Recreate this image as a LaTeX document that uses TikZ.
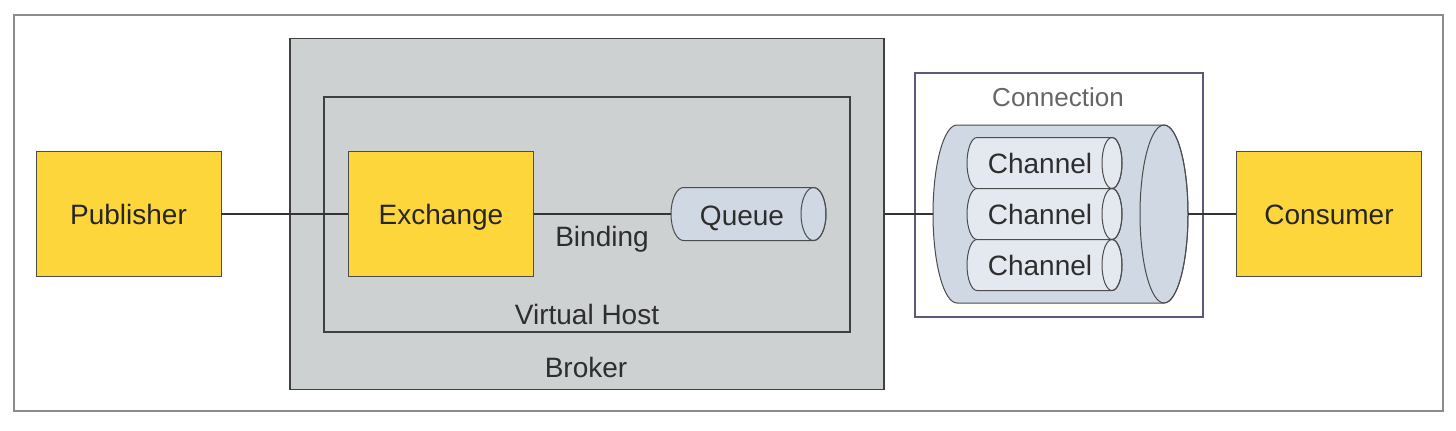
\documentclass[tikz,border=0pt]{standalone}
\usepackage{fontspec}
\setmainfont{Liberation Sans}
\definecolor{box yellow}{HTML}{FDD63C}
\definecolor{broker grey}{HTML}{CDD1D1}
\definecolor{pipe blue}{HTML}{D0D8E4}
\definecolor{channel blue}{HTML}{E4E9F0}
\definecolor{conn edge}{HTML}{5C587C}
\colorlet{label grey}{black!82}
\newcommand{\tube}[6]{% left x, right x, mid y, y radius, x radius, fill
  \filldraw[tubeline, fill=#6] (#2-#5,#3+#4) -- (#1+#5,#3+#4)
    arc[start angle=90, end angle=270, x radius=#5, y radius=#4]
    -- (#2-#5,#3-#4)
    arc[start angle=-90, end angle=90, x radius=#5, y radius=#4] -- cycle;
  \draw[tubeline] (#2-#5,#3) ellipse[x radius=#5, y radius=#4];
}
\tikzset{
  frame/.style={draw=black!45, line width=1pt},
  actor/.style={draw=black!70, fill=box yellow, minimum width=92.5pt, minimum height=62.5pt,
    text=black!85, font=\fontsize{14}{16}\selectfont, text height=10pt, text depth=0pt},
  hostbox/.style={draw=black!75, line width=0.6pt, inner sep=0pt},
  connbox/.style={draw=conn edge, fill=white, line width=0.6pt, inner sep=0pt},
  tubeline/.style={draw=black!70, line width=0.5pt},
  tubetext/.style={text=label grey, font=\fontsize{14}{16}\selectfont, text height=10pt, text depth=0pt, inner sep=0pt},
  caption/.style={tubetext},
  link/.style={draw=black!80, line width=0.6pt}
}
\begin{document}
\begin{tikzpicture}[x=0.5pt, y=0.5pt]
  \useasboundingbox (0,0) rectangle (1456,-430);
  \draw[frame] (14,-15) rectangle (1443,-411);
  % broker and virtual host
  \node[hostbox, fill=broker grey, minimum width=297pt, minimum height=175.5pt] (broker) at (587,-214) {};
  \node[hostbox, minimum width=263pt, minimum height=117.5pt] (vhost) at (587,-214.5) {};
  % connection with its channels
  \node[connbox, minimum width=144pt, minimum height=122pt] (conn) at (1059,-195) {};
  \tube{933}{1188}{-214}{89}{24}{pipe blue}
  \tube{967}{1122}{-163}{25.5}{10}{channel blue}
  \tube{967}{1122}{-214}{25.5}{10}{channel blue}
  \tube{967}{1122}{-265}{25.5}{10}{channel blue}
  \tube{671}{826}{-214}{26.5}{12.5}{pipe blue}
  \coordinate (queue-in) at (671,-214);
  \coordinate (pipe-in) at (933,-214);
  \coordinate (pipe-out) at (1188,-214);
  % yellow boxes
  \node[actor] (publisher) at (128.5,-214) {Publisher};
  \node[actor] (exchange) at (441,-214) {Exchange};
  \node[actor] (consumer) at (1329,-214) {Consumer};
  % texts
  \node[tubetext] (queue) at (742,-215) {Queue};
  \node[tubetext] (ch1) at (1040,-163) {Channel};
  \node[tubetext] (ch2) at (1040,-214) {Channel};
  \node[tubetext] (ch3) at (1040,-265) {Channel};
  \node[caption] (binding) at (602,-236) {Binding};
  \node[caption] (vhostlbl) at (587,-314) {Virtual Host};
  \node[caption] (brokerlbl) at (586,-367) {Broker};
  \node[caption, text=black!60, font=\fontsize{13}{15}\selectfont] (connlbl) at (1058,-96.5) {Connection};
  % links
  \draw[link] (publisher) -- (exchange);
  \draw[link] (exchange) -- (queue-in);
  \draw[link] (broker.east) -- (pipe-in);
  \draw[link] (pipe-out) -- (consumer);
\end{tikzpicture}
\end{document}
